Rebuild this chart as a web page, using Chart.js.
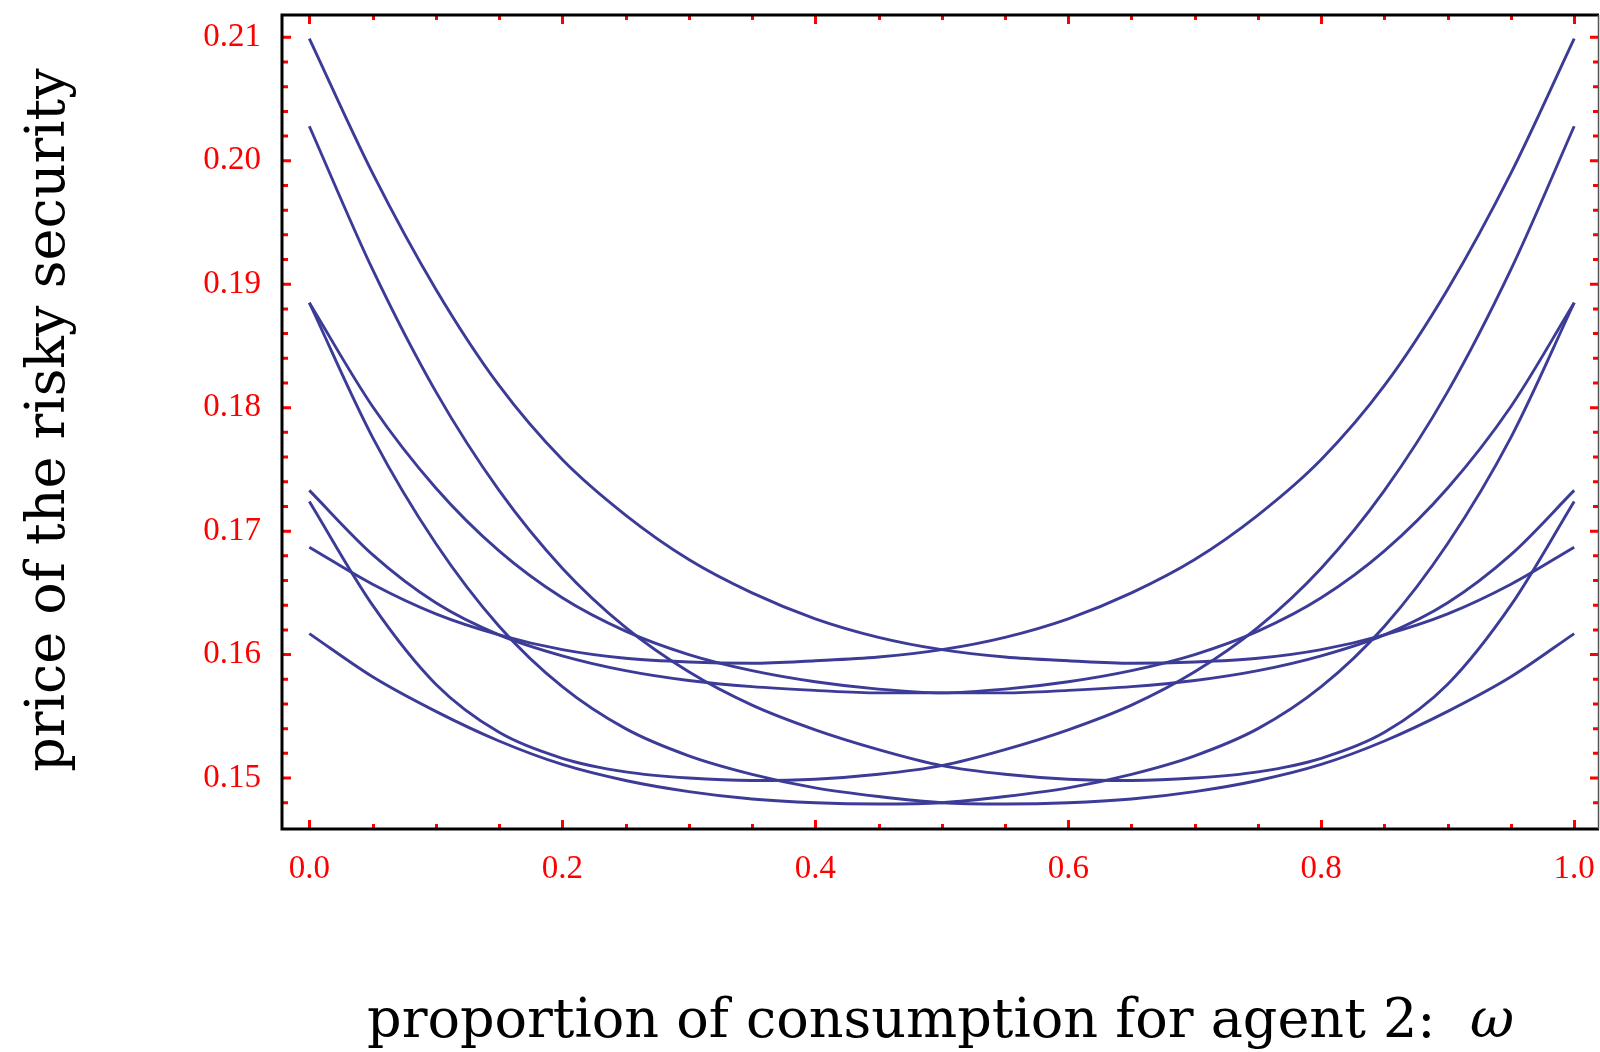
<!DOCTYPE html>
<html>
<head>
<meta charset="utf-8">
<script src="https://cdn.jsdelivr.net/npm/chart.js@4.4.1/dist/chart.umd.min.js"></script>
<style>
  html, body { margin: 0; padding: 0; background: #fff; }
  #wrap { width: 1600px; height: 1052px; }
</style>
</head>
<body>
<div id="wrap"><canvas id="priceChart"></canvas></div>
<script>
// consumption share of agent 2
const omega = [0, 0.05, 0.1, 0.15, 0.2, 0.25, 0.3, 0.35, 0.4, 0.45, 0.5,
               0.55, 0.6, 0.65, 0.7, 0.75, 0.8, 0.85, 0.9, 0.95, 1];

// price curves, one per parameter set, and the same sets with the agents swapped
const priceA = [0.2099, 0.1990, 0.1896, 0.1818, 0.1758, 0.1713, 0.1677, 0.1650, 0.1629, 0.1614, 0.1604,
                0.1598, 0.1595, 0.1593, 0.1594, 0.1597, 0.1604, 0.1616, 0.1633, 0.1657, 0.1687];
const priceASwap = [0.1687, 0.1657, 0.1633, 0.1616, 0.1604, 0.1597, 0.1594, 0.1593, 0.1595, 0.1598, 0.1604,
                    0.1614, 0.1629, 0.1650, 0.1677, 0.1713, 0.1758, 0.1818, 0.1896, 0.1990, 0.2099];
const priceB = [0.2028, 0.1912, 0.1813, 0.1733, 0.1670, 0.1622, 0.1586, 0.1559, 0.1539, 0.1523, 0.1510,
                0.1503, 0.1499, 0.1498, 0.1500, 0.1505, 0.1516, 0.1537, 0.1576, 0.1640, 0.1724];
const priceBSwap = [0.1724, 0.1640, 0.1576, 0.1537, 0.1516, 0.1505, 0.1500, 0.1498, 0.1499, 0.1503, 0.1510,
                    0.1523, 0.1539, 0.1559, 0.1586, 0.1622, 0.1670, 0.1733, 0.1813, 0.1912, 0.2028];
const priceC = [0.1885, 0.1801, 0.1735, 0.1684, 0.1646, 0.1619, 0.1600, 0.1587, 0.1578, 0.1572, 0.1569,
                0.1569, 0.1571, 0.1574, 0.1579, 0.1587, 0.1599, 0.1616, 0.1642, 0.1681, 0.1733];
const priceCSwap = [0.1733, 0.1681, 0.1642, 0.1616, 0.1599, 0.1587, 0.1579, 0.1574, 0.1571, 0.1569, 0.1569,
                    0.1572, 0.1578, 0.1587, 0.1600, 0.1619, 0.1646, 0.1684, 0.1735, 0.1801, 0.1885];
const priceD = [0.1885, 0.1776, 0.1690, 0.1623, 0.1574, 0.1540, 0.1518, 0.1503, 0.1492, 0.1485, 0.1480,
                0.1479, 0.1480, 0.1483, 0.1489, 0.1498, 0.1511, 0.1530, 0.1554, 0.1582, 0.1617];
const priceDSwap = [0.1617, 0.1582, 0.1554, 0.1530, 0.1511, 0.1498, 0.1489, 0.1483, 0.1480, 0.1479, 0.1480,
                    0.1485, 0.1492, 0.1503, 0.1518, 0.1540, 0.1574, 0.1623, 0.1690, 0.1776, 0.1885];

const curves = [priceA, priceASwap, priceB, priceBSwap, priceC, priceCSwap, priceD, priceDSwap];

const xTitle = 'proportion of consumption for agent 2:  ';
const xSymbol = 'ω';
const yTitle = 'price of the risky security';

const lineColor = '#3c3c98';
const tickColor = '#ff0000';

const datasets = curves.map(vals => ({
  data: omega.map((w, i) => ({ x: w, y: vals[i] })),
  borderColor: lineColor,
  borderWidth: 2.9,
  pointRadius: 0,
  fill: false,
  cubicInterpolationMode: 'monotone',
}));

// red tick marks drawn inward on all four sides, plus frame and axis titles
const frameAndTicks = {
  id: 'frameAndTicks',
  afterDraw(chart) {
    const { ctx, chartArea: a, scales: { x, y } } = chart;
    ctx.save();

    ctx.strokeStyle = tickColor;
    ctx.lineWidth = 3;
    ctx.beginPath();
    for (let i = 0; i <= 20; i++) {
      const px = Math.round(x.getPixelForValue(i / 20)) + 0.5;
      const len = i % 4 === 0 ? 9 : 5;
      ctx.moveTo(px, a.bottom); ctx.lineTo(px, a.bottom - len);
      ctx.moveTo(px, a.top); ctx.lineTo(px, a.top + len);
    }
    for (let t = 148; t <= 212; t += 2) {
      const py = y.getPixelForValue(t / 1000);
      if (py < a.top + 1 || py > a.bottom + 1) continue;
      const len = t % 10 === 0 ? 9 : 6;
      ctx.moveTo(a.left, py); ctx.lineTo(a.left + len, py);
      ctx.moveTo(a.right, py); ctx.lineTo(a.right - len, py);
    }
    ctx.stroke();

    // frame
    ctx.strokeStyle = '#000';
    ctx.lineWidth = 3;
    ctx.beginPath();
    ctx.moveTo(a.right, a.top); ctx.lineTo(a.left, a.top);
    ctx.lineTo(a.left, a.bottom); ctx.lineTo(a.right, a.bottom);
    ctx.stroke();
    ctx.strokeStyle = '#555';
    ctx.lineWidth = 1.5;
    ctx.beginPath();
    ctx.moveTo(a.right - 0.5, a.top); ctx.lineTo(a.right - 0.5, a.bottom);
    ctx.stroke();

    // axis titles
    ctx.fillStyle = '#000';
    ctx.textBaseline = 'alphabetic';
    ctx.font = '54px "DejaVu Serif"';
    ctx.save();
    ctx.translate(64, 420);
    ctx.rotate(-Math.PI / 2);
    ctx.textAlign = 'center';
    ctx.fillText(yTitle, 0, 0);
    ctx.restore();

    ctx.font = '54px "DejaVu Serif"';
    const w1 = ctx.measureText(xTitle).width;
    ctx.font = 'italic 54px "DejaVu Serif"';
    const w2 = ctx.measureText(xSymbol).width;
    const x0 = (a.left + a.right) / 2 - (w1 + w2) / 2;
    ctx.textAlign = 'left';
    ctx.font = '54px "DejaVu Serif"';
    ctx.fillText(xTitle, x0, 1037);
    ctx.font = 'italic 54px "DejaVu Serif"';
    ctx.fillText(xSymbol, x0 + w1, 1037);

    ctx.restore();
  }
};

const tickFont = { family: '"Liberation Serif"', size: 33 };

new Chart(document.getElementById('priceChart'), {
  type: 'line',
  data: { datasets },
  options: {
    responsive: true,
    maintainAspectRatio: false,
    animation: false,
    devicePixelRatio: 1,
    layout: { autoPadding: false, padding: { top: 15, right: 1, left: 0, bottom: 0 } },
    plugins: { legend: { display: false }, tooltip: { enabled: false } },
    scales: {
      x: {
        type: 'linear',
        min: -0.0216,
        max: 1.0196,
        grid: { display: false, drawTicks: false },
        border: { display: false },
        ticks: {
          stepSize: 0.2,
          includeBounds: false,
          color: tickColor,
          font: tickFont,
          padding: 21,
          maxRotation: 0,
          callback: v => v.toFixed(1),
        },
        afterFit: s => {
          s.height = 223;
          s.paddingLeft = 0;
          s.paddingRight = 0;
        },
      },
      y: {
        type: 'linear',
        min: 0.14587,
        max: 0.21181,
        grid: { display: false, drawTicks: false },
        border: { display: false },
        ticks: {
          stepSize: 0.01,
          includeBounds: false,
          color: tickColor,
          font: tickFont,
          padding: 21,
          callback: v => v.toFixed(2),
        },
        afterFit: s => {
          s.width = 282;
          s.paddingTop = 0;
          s.paddingBottom = 0;
        },
      },
    },
  },
  plugins: [frameAndTicks],
});
</script>
</body>
</html>
